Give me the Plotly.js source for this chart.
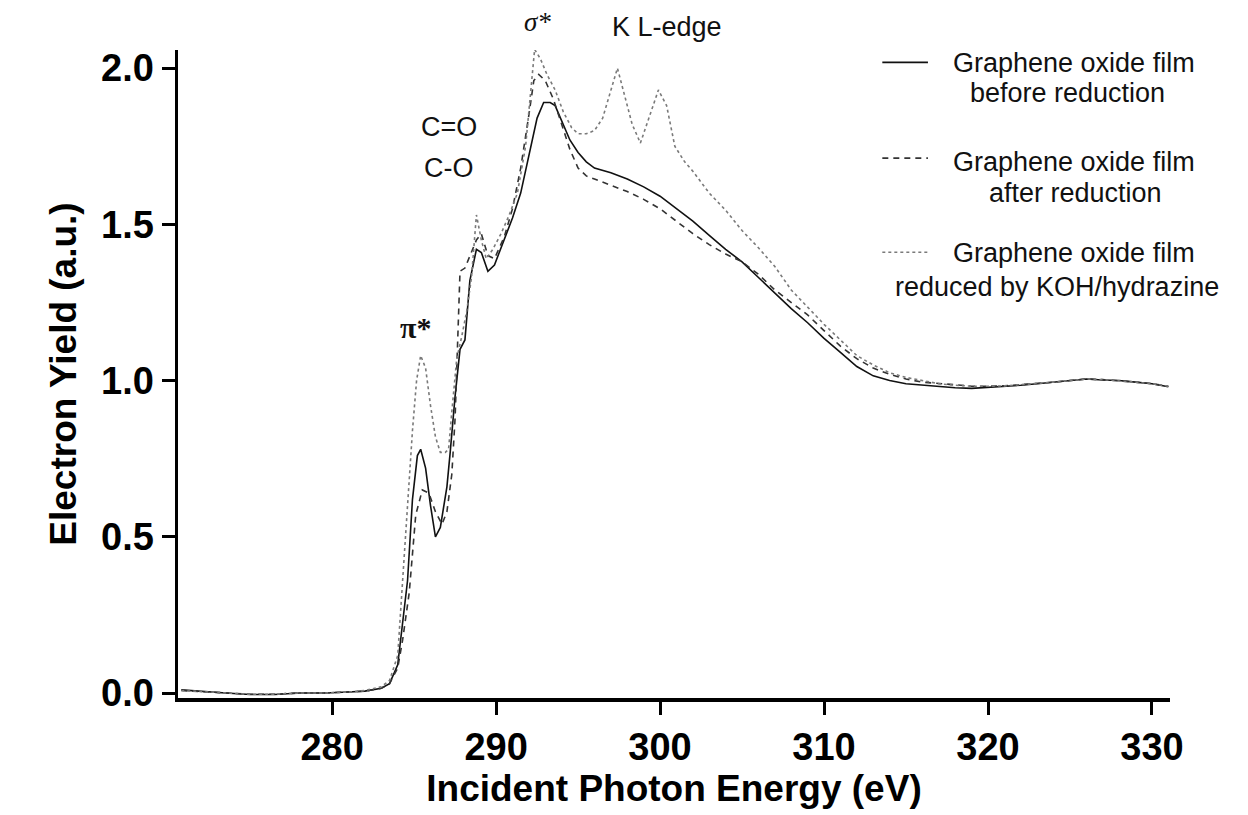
<!DOCTYPE html>
<html>
<head>
<meta charset="utf-8">
<script src="https://cdn.plot.ly/plotly-3.0.1.min.js"></script>
<style>html,body{margin:0;padding:0;background:#fff;}#chart{width:1248px;height:815px;}</style>
</head>
<body>
<div id="chart"></div>
<script>
// ---- Data ----
const seriesNames = [
  "Graphene oxide film before reduction",
  "Graphene oxide film after reduction",
  "Graphene oxide film reduced by KOH/hydrazine"
];

const xBefore = [270.8,272,273.5,275,276.5,278,279.5,281,282,283,283.5,284,284.3,284.6,284.9,285.2,285.4,285.7,286.0,286.3,286.6,287.0,287.2,287.5,287.8,288.1,288.4,288.8,289.1,289.5,289.9,290.5,291,291.5,292,292.5,292.9,293.3,293.6,294,294.5,295,295.5,296,297,298,299,300,301,302,303,304,305,306,307,308,309,310,311,312,313,314,315,316,317,318,319,320,321,322,323,324,325,326,327,328,329,330,331];
const yBefore = [0.01,0.005,0.0,-0.005,-0.005,0.0,0.0,0.003,0.006,0.015,0.03,0.09,0.22,0.36,0.62,0.76,0.78,0.72,0.6,0.5,0.53,0.66,0.77,0.95,1.10,1.13,1.32,1.42,1.41,1.35,1.37,1.45,1.52,1.6,1.72,1.84,1.89,1.89,1.88,1.83,1.77,1.73,1.70,1.68,1.665,1.645,1.62,1.59,1.55,1.51,1.465,1.42,1.38,1.33,1.28,1.23,1.185,1.135,1.09,1.045,1.015,1.0,0.99,0.985,0.98,0.977,0.975,0.978,0.98,0.985,0.99,0.995,1.0,1.005,1.002,1.0,0.995,0.99,0.98];

const xAfter = [270.8,272,273.5,275,276.5,278,279.5,281,282,283,283.5,284,284.3,284.7,285.1,285.5,285.9,286.3,286.7,287.0,287.3,287.5,287.65,287.8,288.1,288.4,288.8,289.1,289.5,289.9,290.5,291,291.5,292,292.3,292.6,293,293.5,294,294.5,295,295.5,296,297,298,299,300,301,302,303,304,305,306,307,308,309,310,311,312,313,314,315,316,317,318,319,320,321,322,323,324,325,326,327,328,329,330,331];
const yAfter = [0.008,0.004,0.0,-0.004,-0.004,0.0,0.0,0.003,0.006,0.015,0.03,0.08,0.17,0.32,0.57,0.65,0.64,0.58,0.54,0.58,0.7,0.88,1.15,1.35,1.36,1.4,1.45,1.47,1.4,1.39,1.46,1.55,1.68,1.85,1.96,1.98,1.96,1.9,1.82,1.74,1.68,1.655,1.645,1.625,1.605,1.58,1.55,1.51,1.47,1.435,1.405,1.38,1.34,1.29,1.25,1.21,1.16,1.11,1.07,1.04,1.02,1.005,0.995,0.99,0.985,0.982,0.982,0.983,0.987,0.99,0.995,1.0,1.005,1.003,1.0,0.995,0.99,0.982];

const xKOH = [270.8,272,273.5,275,276.5,278,279.5,281,282,283,283.5,284,284.3,284.6,284.9,285.15,285.4,285.7,286.0,286.3,286.6,286.9,287.1,287.3,287.6,287.9,288.2,288.5,288.8,289.1,289.4,289.8,290.3,290.8,291.3,291.8,292.1,292.35,292.7,293.1,293.6,294.1,294.6,295,295.5,296,296.5,297,297.4,297.8,298.3,298.8,299.3,299.9,300.4,300.9,301.5,302,303,304,305,306,307,308,309,310,311,312,313,314,315,316,317,318,319,320,321,322,323,324,325,326,327,328,329,330,331];
const yKOH = [0.008,0.004,0.0,-0.004,-0.004,0.0,0.0,0.003,0.008,0.02,0.04,0.12,0.36,0.6,0.84,1.0,1.08,1.04,0.92,0.82,0.77,0.77,0.78,0.9,1.07,1.14,1.22,1.33,1.53,1.45,1.39,1.42,1.47,1.53,1.6,1.75,1.92,2.06,2.03,1.98,1.93,1.86,1.81,1.79,1.79,1.80,1.84,1.93,2.0,1.92,1.82,1.76,1.84,1.93,1.88,1.75,1.7,1.67,1.6,1.545,1.48,1.425,1.365,1.29,1.235,1.18,1.13,1.08,1.05,1.025,1.01,1.0,0.99,0.985,0.982,0.982,0.983,0.987,0.99,0.995,1.0,1.005,1.003,1.0,0.995,0.99,0.982];

const xTicks = [280,290,300,310,320,330];
const yTicks = [0,0.5,1.0,1.5,2.0];
const yTickText = ["0.0","0.5","1.0","1.5","2.0"];

// labels placed in data coordinates (inside the plot)
const peakLabels = ["C=O","C-O","π*"];
const peakLabelX = [287.1,287.1,285.1];
const peakLabelY = [1.81,1.68,1.17];
// labels above the plot area (paper coordinates)
const topLabels = ["σ*","K L-edge"];
const topLabelX = [292.5,300.4];
const topLabelPaperY = [1.043,1.035];

const legendLines = [
  ["Graphene oxide film","before reduction"],
  ["Graphene oxide film","after reduction"],
  ["Graphene oxide film","reduced by KOH/hydrazine"]
];

// ---- Styles ----
const FONT = "Liberation Sans, Arial, sans-serif";
const SERIF = "Liberation Serif, Times New Roman, serif";
const lineStyles = [
  {color:"#111111", width:1.6, dash:"solid"},
  {color:"#333333", width:1.6, dash:"6px,5px"},
  {color:"#7a7a7a", width:1.6, dash:"dot"}
];

const traces = [
  {x:xBefore, y:yBefore, name:seriesNames[0], mode:"lines", line:lineStyles[0], showlegend:false},
  {x:xAfter,  y:yAfter,  name:seriesNames[1], mode:"lines", line:lineStyles[1], showlegend:false},
  {x:xKOH,    y:yKOH,    name:seriesNames[2], mode:"lines", line:lineStyles[2], showlegend:false}
];

const annotations = [];
peakLabels.forEach((t,i)=>{
  const isPi = (i===2);
  annotations.push({
    x:peakLabelX[i], y:peakLabelY[i], xref:"x", yref:"y", text:t, showarrow:false,
    xanchor:"center", yanchor:"middle",
    font: isPi ? {family:SERIF, size:30, color:"#111", weight:"bold"}
               : {family:FONT, size:27, color:"#111"}
  });
});
topLabels.forEach((t,i)=>{
  const isSigma = (i===0);
  annotations.push({
    x:topLabelX[i], y:topLabelPaperY[i], xref:"x", yref:"paper", text:t, showarrow:false,
    xanchor:"center", yanchor:"middle",
    font: isSigma ? {family:SERIF, size:27, color:"#111", style:"italic"}
                  : {family:FONT, size:27, color:"#111"}
  });
});

// custom legend (centered two-line labels, as in the reference)
const legCenterX = [[0.903,0.897],[0.903,0.905],[0.903,0.886]];
const legLineY = [[0.980,0.934],[0.827,0.779],[0.687,0.634]];
const legSampleY = [0.981, 0.833, 0.688];
const shapes = [];
legendLines.forEach((lines,i)=>{
  lines.forEach((t,j)=>{
    annotations.push({
      x: legCenterX[i][j], y: legLineY[i][j], xref:"paper", yref:"paper",
      text:t, showarrow:false, xanchor:"center", yanchor:"middle",
      font:{family:FONT, size:27, color:"#111"}
    });
  });
  shapes.push({type:"line", xref:"paper", yref:"paper", x0:0.710, x1:0.756, y0:legSampleY[i], y1:legSampleY[i],
    line:{color:lineStyles[i].color, width: i===2 ? 1.4 : 1.8, dash:lineStyles[i].dash}});
});

const axisCommon = {
  showline:true, linecolor:"#000", linewidth:3.5, mirror:false,
  showgrid:false, zeroline:false,
  ticks:"outside", ticklen:13, tickwidth:3, tickcolor:"#000",
  tickfont:{family:FONT, size:38, color:"#000", weight:"bold"}
};

const layout = {
  width:1248, height:815,
  margin:{l:178, r:78, t:50, b:117},
  paper_bgcolor:"#fff", plot_bgcolor:"#fff",
  font:{family:FONT, color:"#000"},
  showlegend:false,
  xaxis: Object.assign({}, axisCommon, {
    range:[270.6, 331.1], tickvals:xTicks, ticktext:xTicks.map(String),
    title:{text:"Incident Photon Energy (eV)", font:{family:FONT, size:37, color:"#000", weight:"bold"}, standoff:6}
  }),
  yaxis: Object.assign({}, axisCommon, {
    range:[-0.016, 2.058], tickvals:yTicks, ticktext:yTickText,
    title:{text:"Electron Yield (a.u.)", font:{family:FONT, size:37, color:"#000", weight:"bold"}, standoff:14}
  }),
  annotations: annotations,
  shapes: shapes
};

Plotly.newPlot("chart", traces, layout, {displayModeBar:false, staticPlot:true});
</script>
</body>
</html>
